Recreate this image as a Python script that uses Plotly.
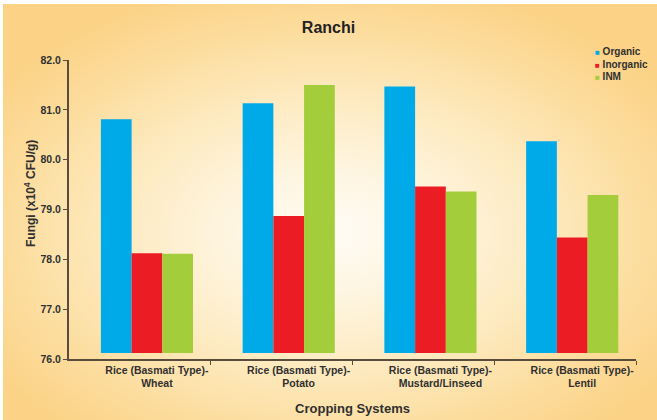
import urllib.parse
import plotly.graph_objects as go

# Cropping systems (x categories) and fungal counts per treatment
line1 = ["Rice (Basmati Type)-"] * 4
line2 = ["Wheat", "Potato", "Mustard/Linseed", "Lentil"]
categories = [f"{a}<br>{b}" for a, b in zip(line1, line2)]

organic = [80.81, 81.13, 81.47, 80.37]
inorganic = [78.12, 78.87, 79.46, 78.44]
inm = [78.11, 81.50, 79.36, 79.29]

series_names = ["Organic", "Inorganic", "INM"]
series_values = [organic, inorganic, inm]
series_colors = ["#00a9e8", "#ec1c24", "#a3cd3b"]

y_ticks = [76.0, 77.0, 78.0, 79.0, 80.0, 81.0, 82.0]
bar_floor = 76.12

positions = list(range(len(categories)))

FONT = "Liberation Sans, Arial, sans-serif"
TXT = "#303030"

fig = go.Figure()
for name, vals, col in zip(series_names, series_values, series_colors):
    fig.add_trace(go.Bar(
        name=name,
        x=positions,
        y=[v - bar_floor for v in vals],
        base=bar_floor,
        marker=dict(color=col, line=dict(width=0)),
        customdata=vals,
        hovertemplate="%{customdata:.2f}<extra>" + name + "</extra>",
        showlegend=False,
    ))

# warm radial backdrop with a thin white rim at the top and left
bg_svg = (
    "<svg xmlns='http://www.w3.org/2000/svg' width='657' height='420' viewBox='0 0 657 420'>"
    "<defs><radialGradient id='g' cx='0.5' cy='0.55' r='0.62'>"
    "<stop offset='0' stop-color='#fffcf6'/>"
    "<stop offset='0.25' stop-color='#fef5e0'/>"
    "<stop offset='0.55' stop-color='#fde9bd'/>"
    "<stop offset='0.8' stop-color='#fcdc9c'/>"
    "<stop offset='1' stop-color='#fbd286'/>"
    "</radialGradient></defs>"
    "<rect width='657' height='420' fill='#ffffff'/>"
    "<rect x='3' y='4' width='654' height='416' fill='url(#g)'/>"
    "</svg>"
)
bg_src = "data:image/svg+xml;charset=utf-8," + urllib.parse.quote(bg_svg)

W, H = 657, 420
L, R, T, B = 69, 21, 60, 61
pw, ph = W - L - R, H - T - B

fig.add_layout_image(dict(
    source=bg_src, xref="paper", yref="paper",
    x=-L / pw, y=1 + T / ph, sizex=W / pw, sizey=H / ph,
    sizing="stretch", xanchor="left", yanchor="top", layer="below",
))

# compact legend: coloured square glyph followed by the series name
for i, (name, col) in enumerate(zip(series_names, series_colors)):
    fig.add_annotation(
        xref="paper", yref="paper",
        x=(593 - L) / pw, y=1 + (T - 51 - 13 * i) / ph,
        xanchor="left", yanchor="middle", showarrow=False,
        text=f"<span style='color:{col};font-size:8px'>■</span> {name}",
        font=dict(family=FONT, size=10, color=TXT, weight="bold"),
    )

# y-axis title
fig.add_annotation(
    xref="paper", yref="paper",
    x=(30 - L) / pw, y=(H - B - 194) / ph,
    xanchor="center", yanchor="middle", showarrow=False, textangle=-90,
    text="Fungi (x10<sup>4</sup> CFU/g)",
    font=dict(family=FONT, size=12, color=TXT, weight="bold"),
)

axis_col = "#5a4c3c"

fig.update_layout(
    width=W, height=H,
    margin=dict(l=L, r=R, t=T, b=B, autoexpand=False),
    paper_bgcolor="white",
    plot_bgcolor="rgba(0,0,0,0)",
    barmode="group",
    bargap=0.35,
    bargroupgap=0,
    showlegend=False,
    title=dict(
        text="Ranchi", x=0.5, xref="container", y=0.935, yanchor="middle",
        font=dict(family=FONT, size=16, color="#222222", weight="bold"),
    ),
    xaxis=dict(
        range=[-0.55, 3.45],
        automargin=False,
        tickmode="array",
        tickvals=[p + 0.07 for p in positions],
        ticktext=categories,
        ticks="",
        tickfont=dict(family=FONT, size=10.5, color=TXT, weight="bold"),
        showline=True, linecolor=axis_col, linewidth=2,
        showgrid=False, zeroline=False,
        minor=dict(tickmode="array", tickvals=[p + 0.45 for p in positions],
                   ticks="outside", ticklen=4, tickwidth=1, tickcolor=axis_col, showgrid=False),
        title=dict(text="Cropping Systems", standoff=16,
                   font=dict(family=FONT, size=13, color=TXT, weight="bold")),
        fixedrange=True,
    ),
    yaxis=dict(
        range=[76, 82],
        automargin=False,
        tickmode="array",
        tickvals=y_ticks,
        ticktext=[f"{v:.1f}" for v in y_ticks],
        ticks="outside", ticklen=4, tickwidth=1, tickcolor=axis_col,
        tickfont=dict(family=FONT, size=10.5, color=TXT, weight="bold"),
        showline=True, linecolor=axis_col, linewidth=2,
        showgrid=False, zeroline=False,
        fixedrange=True,
    ),
)

fig.write_html("out.html")
